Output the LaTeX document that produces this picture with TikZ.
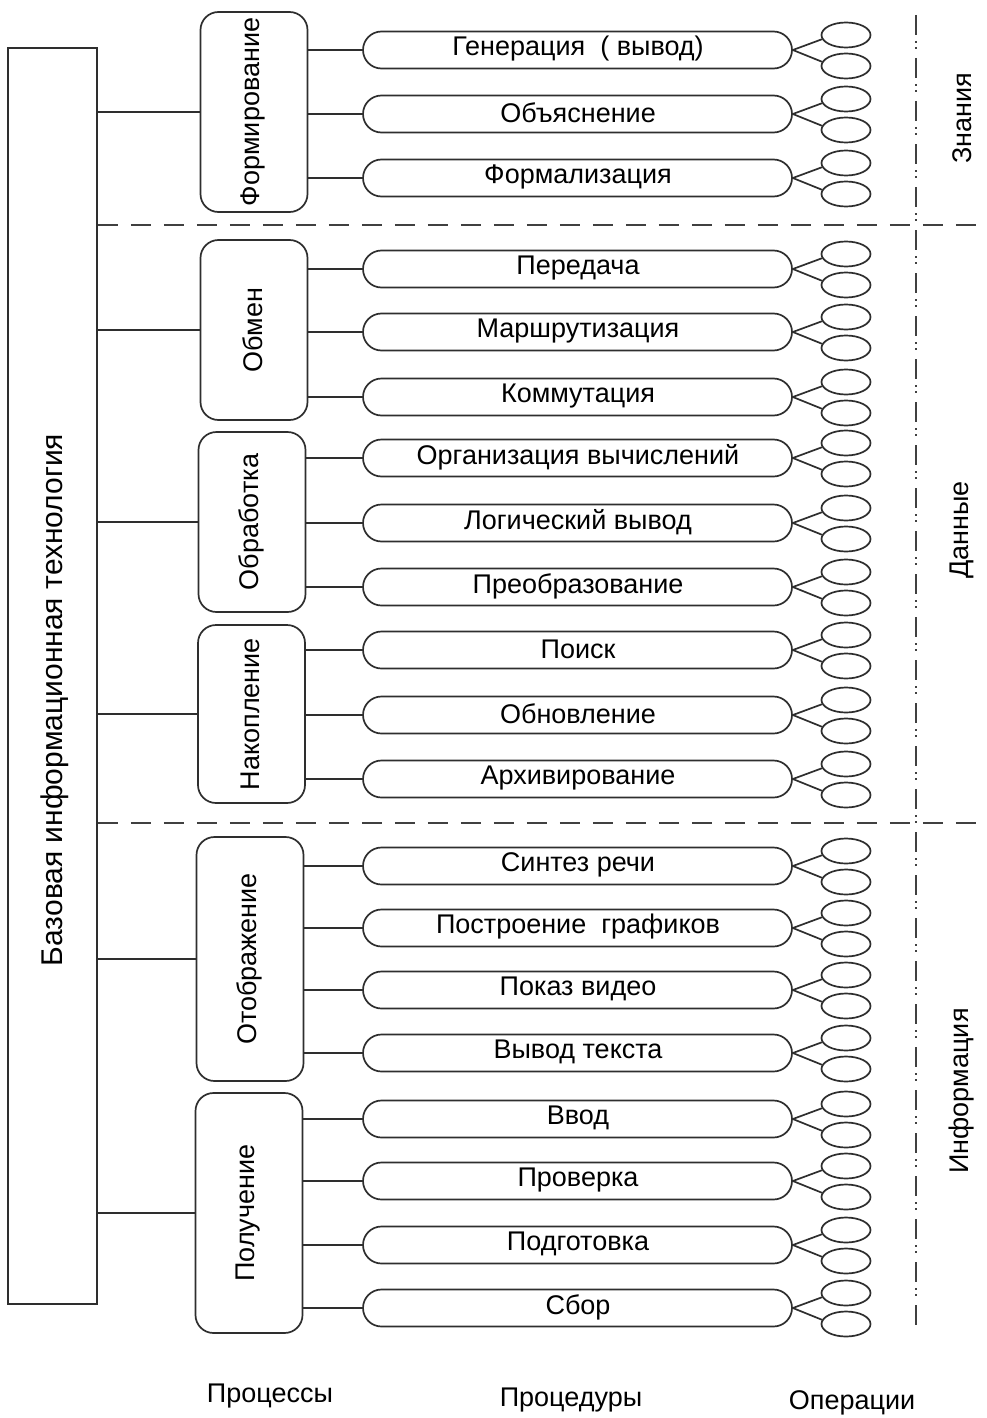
\documentclass[tikz,border=0pt]{standalone}
\usepackage{fontspec}
\setmainfont{Liberation Sans}
\usetikzlibrary{shapes.geometric}
\begin{document}
\begin{tikzpicture}[x=1pt,y=-1pt,
  every node/.style={font=\fontsize{27}{32}\selectfont, inner sep=0pt},
  ln/.style={line width=1.7pt, draw=black!82},
  basebox/.style={draw=black!82, line width=1.7pt, minimum width=89pt, minimum height=1256pt},
  procbox/.style={draw=black!82, line width=1.7pt, rounded corners=18pt, minimum width=107pt},
  pill/.style={draw=black!82, line width=1.7pt, rounded corners=18.5pt, minimum width=429pt, minimum height=37pt},
  oval/.style={draw=black!82, line width=1.7pt, ellipse, minimum width=49pt, minimum height=25pt},
  sep/.style={line width=1.7pt, draw=black!75, dash pattern=on 20pt off 13pt},
  dashdot/.style={line width=1.5pt, draw=black!75, dash pattern=on 20pt off 6pt on 2pt off 4pt on 2pt off 9pt}]
\useasboundingbox (0,0) rectangle (986,1418);
\fill[white] (0,0) rectangle (986,1418);

% base block
\node[basebox] (base) at (52.5,676) {};
\node[rotate=90, font=\fontsize{30}{36}\selectfont] (basetxt) at (55,700) {Базовая информационная технология};

% processes
\foreach \n/\x/\y/\h/\t in {pr1/254/112/200/Формирование, pr2/254/330/180/Обмен, pr3/252/522/180/Обработка, pr4/251.5/714/178/Накопление, pr5/250/959/244/Отображение, pr6/249/1213/240/Получение}{
  \node[procbox, minimum height=\h pt] (\n) at (\x,\y) {};
  \node[rotate=90] (\n t) at (\x-1,\y) {\t};
  \draw[ln] (base.east |- \n.west) -- (\n.west);
}

% procedures
\foreach \n/\p/\y/\t in {p1/pr1/50/{Генерация~~(~вывод)}, p2/pr1/114/Объяснение, p3/pr1/178/Формализация,
  p4/pr2/269/Передача, p5/pr2/332/Маршрутизация, p6/pr2/397/Коммутация,
  p7/pr3/458/Организация вычислений, p8/pr3/523/Логический вывод, p9/pr3/587/Преобразование,
  p10/pr4/650/Поиск, p11/pr4/715/Обновление, p12/pr4/779/Архивирование,
  p13/pr5/866/Синтез речи, p14/pr5/928/{Построение~~графиков}, p15/pr5/990/Показ видео, p16/pr5/1053/Вывод текста,
  p17/pr6/1119/Ввод, p18/pr6/1181/Проверка, p19/pr6/1245/Подготовка, p20/pr6/1308/Сбор}{
  \node[pill] (\n) at (577.5,\y) {};
  \node (\n t) at (578,\y-1) {\t};
  \draw[ln] (\p.east |- \n.west) -- (\n.west);
  \node[oval] (\n a) at (846,\y-15) {};
  \node[oval] (\n b) at (846,\y+16) {};
  \draw[ln] (\n.east) -- (\n a.190);
  \draw[ln] (\n.east) -- (\n b.170);
}

% separators
\coordinate (s1) at (986,225);
\coordinate (s2) at (986,823);
\draw[sep] (base.east |- s1) -- (s1);
\draw[sep] (base.east |- s2) -- (s2);
\coordinate (vt) at (916,15);
\coordinate (vb) at (916,1325);
\draw[dashdot] (vt) -- (vb);

% right labels
\node[rotate=90] (kn) at (962,118) {Знания};
\node[rotate=90] (dn) at (962,530) {Данные};
\node[rotate=90] (inf) at (962,1091) {Информация};

% bottom labels
\node (l1) at (270,1396) {Процессы};
\node (l2) at (571,1400) {Процедуры};
\node (l3) at (852,1403) {Операции};
\end{tikzpicture}
\end{document}
